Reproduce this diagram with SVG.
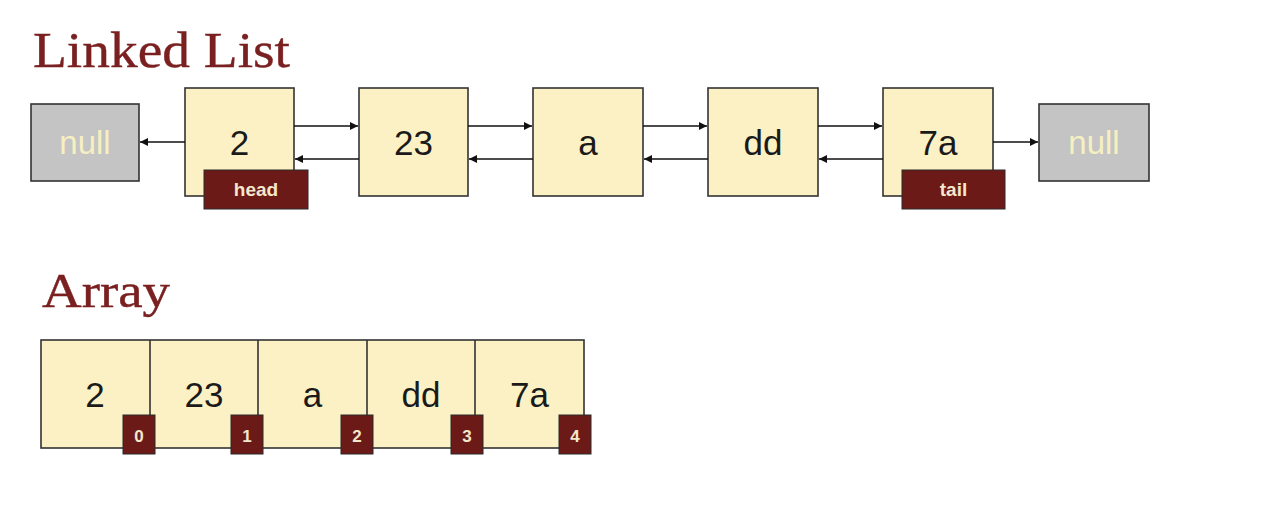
<svg xmlns="http://www.w3.org/2000/svg" width="1266" height="520" viewBox="0 0 1266 520">
<style>
.title{font-family:"Liberation Serif","DejaVu Serif",serif;fill:#7a2020;stroke:#7a2020;stroke-width:0.4;}
.node{fill:#fbf1c4;stroke:#333;stroke-width:1.6;}
.nul{fill:#c4c4c4;stroke:#333;stroke-width:1.6;}
.val{font-family:"Liberation Sans",Arial,sans-serif;font-size:35px;fill:#1a1a1a;text-anchor:middle;}
.nt{font-family:"Liberation Sans",Arial,sans-serif;font-size:33px;fill:#f6efc2;text-anchor:middle;}
.tag{fill:#6c1a17;stroke:#2a2a2a;stroke-width:1;}
.tagt{font-family:"Liberation Sans",Arial,sans-serif;font-weight:bold;fill:#f3e8cc;text-anchor:middle;}
.edge{stroke:#111;stroke-width:1.5;fill:none;marker-end:url(#ah);}
.div{stroke:#333;stroke-width:1.6;}
</style>
<defs>
<marker id="ah" viewBox="0 0 10 10" refX="10" refY="5" markerWidth="9" markerHeight="8" markerUnits="userSpaceOnUse" orient="auto">
<path d="M0,0 L10,5 L0,10 z" fill="#111"/>
</marker>
</defs>
<text class="title" x="33" y="67" font-size="50" textLength="257" lengthAdjust="spacingAndGlyphs">Linked List</text>
<g id="null-left"><rect class="nul" x="31" y="104" width="108" height="77"/><text class="nt" x="85" y="154">null</text></g>
<g id="node-2"><rect class="node" x="185" y="88" width="109" height="108"/><text class="val" x="239.5" y="155">2</text></g>
<g id="node-23"><rect class="node" x="359" y="88" width="109" height="108"/><text class="val" x="413.5" y="155">23</text></g>
<g id="node-a"><rect class="node" x="533" y="88" width="110" height="108"/><text class="val" x="588" y="155">a</text></g>
<g id="node-dd"><rect class="node" x="708" y="88" width="110" height="108"/><text class="val" x="763" y="155">dd</text></g>
<g id="node-7a"><rect class="node" x="883" y="88" width="110" height="108"/><text class="val" x="938" y="155">7a</text></g>
<g id="null-right"><rect class="nul" x="1039" y="104" width="110" height="77"/><text class="nt" x="1094" y="154">null</text></g>
<g id="connectors">
<line class="edge" x1="185" y1="142" x2="140" y2="142"/>
<line class="edge" x1="294" y1="126" x2="358" y2="126"/>
<line class="edge" x1="359" y1="159" x2="295" y2="159"/>
<line class="edge" x1="468" y1="126" x2="532" y2="126"/>
<line class="edge" x1="533" y1="159" x2="469" y2="159"/>
<line class="edge" x1="643" y1="126" x2="707" y2="126"/>
<line class="edge" x1="708" y1="159" x2="644" y2="159"/>
<line class="edge" x1="818" y1="126" x2="882" y2="126"/>
<line class="edge" x1="883" y1="159" x2="819" y2="159"/>
<line class="edge" x1="993" y1="142" x2="1038" y2="142"/>
</g>
<g id="label-head"><rect class="tag" x="204" y="170" width="104" height="39"/><text class="tagt" x="256" y="196" font-size="19">head</text></g>
<g id="label-tail"><rect class="tag" x="902" y="170" width="103" height="39"/><text class="tagt" x="953.5" y="196" font-size="19">tail</text></g>
<text class="title" x="42" y="307" font-size="48" textLength="128" lengthAdjust="spacingAndGlyphs">Array</text>
<g id="array">
<rect class="node" x="41" y="340" width="543" height="108"/>
<line class="div" x1="150" y1="340" x2="150" y2="448"/>
<line class="div" x1="258" y1="340" x2="258" y2="448"/>
<line class="div" x1="367" y1="340" x2="367" y2="448"/>
<line class="div" x1="475" y1="340" x2="475" y2="448"/>
<text class="val" x="95" y="407">2</text>
<text class="val" x="204" y="407">23</text>
<text class="val" x="312.5" y="407">a</text>
<text class="val" x="421" y="407">dd</text>
<text class="val" x="529.5" y="407">7a</text>
</g>
<g id="index-0"><rect class="tag" x="123" y="415" width="32" height="39"/><text class="tagt" x="139" y="442" font-size="17">0</text></g>
<g id="index-1"><rect class="tag" x="231" y="415" width="32" height="39"/><text class="tagt" x="247" y="442" font-size="17">1</text></g>
<g id="index-2"><rect class="tag" x="341" y="415" width="32" height="39"/><text class="tagt" x="357" y="442" font-size="17">2</text></g>
<g id="index-3"><rect class="tag" x="451" y="415" width="32" height="39"/><text class="tagt" x="467" y="442" font-size="17">3</text></g>
<g id="index-4"><rect class="tag" x="559" y="415" width="32" height="39"/><text class="tagt" x="575" y="442" font-size="17">4</text></g>
</svg>
